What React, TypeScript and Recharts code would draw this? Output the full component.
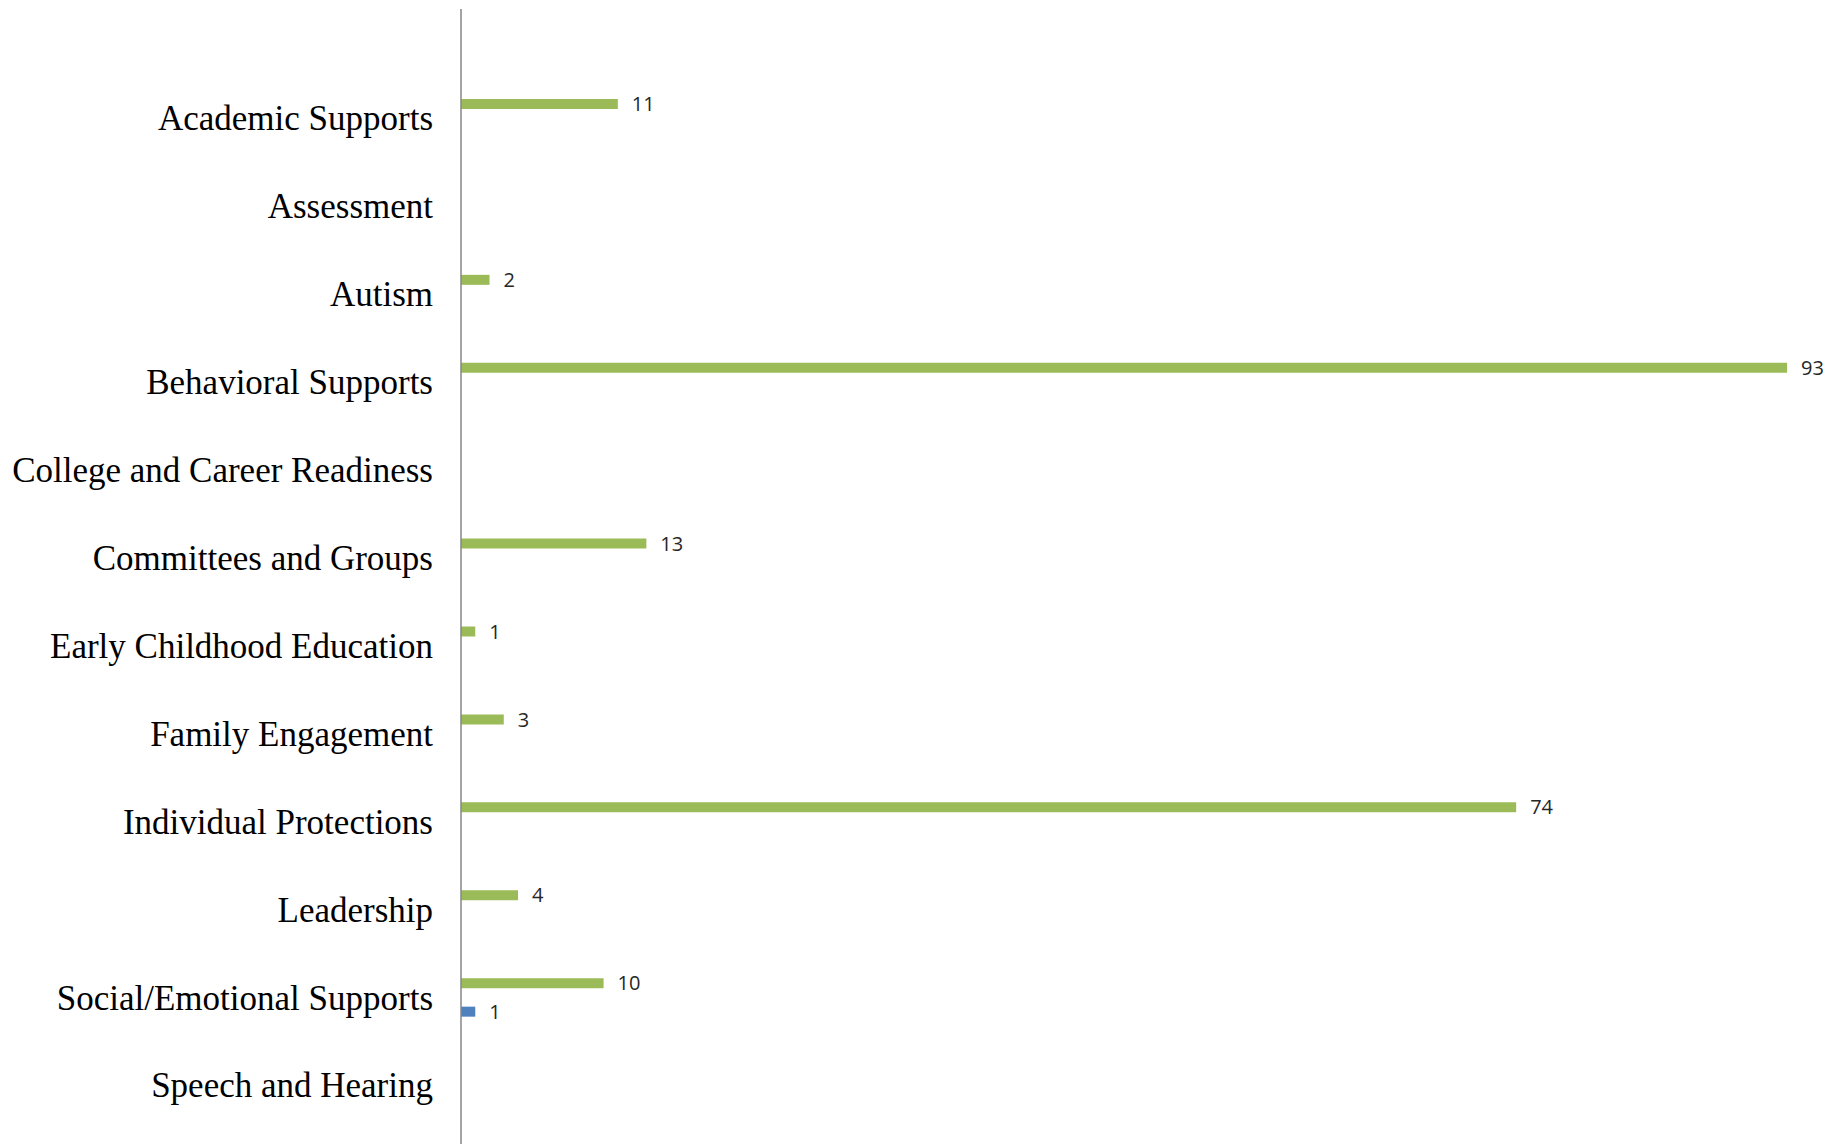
import { Bar, BarChart, LabelList, XAxis, YAxis } from "recharts"

const categories = [
  "Academic Supports",
  "Assessment",
  "Autism",
  "Behavioral Supports",
  "College and Career Readiness",
  "Committees and Groups",
  "Early Childhood Education",
  "Family Engagement",
  "Individual Protections",
  "Leadership",
  "Social/Emotional Supports",
  "Speech and Hearing",
]

const greenValues = [11, null, 2, 93, null, 13, 1, 3, 74, 4, 10, null]
const blueValues = [null, null, null, null, null, null, null, null, null, null, 1, null]

const data = categories.map((name, i) => ({
  name,
  green: greenValues[i],
  blue: blueValues[i],
}))

const labelStyle = { fontFamily: "'Open Sans', sans-serif", fontSize: 20, fill: "#262626" }

export default function App() {
  return (
    <div style={{ position: "absolute", left: 0, top: 0, background: "#fff" }}>
      <BarChart
        width={1837}
        height={1144}
        data={data}
        layout="vertical"
        margin={{ top: 9, right: 0, bottom: 0, left: 0 }}
        barSize={10}
        barGap={18.5}
      >
        <XAxis type="number" domain={[0, 96.5]} allowDataOverflow hide />
        <YAxis
          type="category"
          dataKey="name"
          width={461}
          padding={{ top: 65, bottom: 15 }}
          axisLine={{ stroke: "#868686", strokeWidth: 1.5 }}
          tickLine={false}
          tickSize={0}
          tickMargin={28}
          interval={0}
          tick={{ fontFamily: "'Liberation Serif', serif", fontSize: 35, fill: "#000", dy: 0 }}
        />
        <Bar dataKey="green" fill="#9BBB59" isAnimationActive={false}>
          <LabelList dataKey="green" position="right" offset={14} style={labelStyle} />
        </Bar>
        <Bar dataKey="blue" fill="#4F81BD" isAnimationActive={false}>
          <LabelList dataKey="blue" position="right" offset={14} style={labelStyle} />
        </Bar>
      </BarChart>
    </div>
  )
}
